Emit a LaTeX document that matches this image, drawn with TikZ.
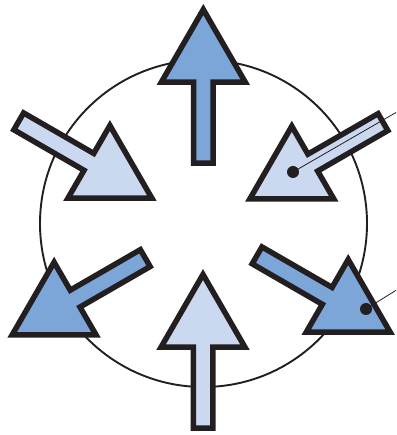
\documentclass[tikz,border=0pt]{standalone}

\definecolor{arrdark}{HTML}{7CA5D8}
\definecolor{arrlight}{HTML}{CAD8F0}
\definecolor{ink}{HTML}{231F20}

\begin{document}
\begin{tikzpicture}[
  x=1pt, y=1pt,
  ring/.style={draw=ink, line width=1.9pt},
  arrline/.style={draw=ink, line width=5.5pt, line join=miter},
  darkarr/.style={fill=arrdark},
  lightarr/.style={fill=arrlight},
  dot/.style={circle, fill=ink, inner sep=0pt, minimum size=12pt},
  leader/.style={draw=ink, line width=0.8pt},
  fatarrow/.pic={
    \path[arrline, pic actions] (0,0) -- (-72.75,42) -- (-72.75,9.75) -- (-153.75,9.75)
      -- (-153.75,-9.75) -- (-72.75,-9.75) -- (-72.75,-42) -- cycle;
  }
]
\path[use as bounding box, clip] (0,0) rectangle (396,435);

\draw[ring] (203.5,211.5) circle[radius=163.5];

% outward (dark) and inward (light) arrows
\pic[darkarr, rotate=90]   at (203.3,425.5)  {fatarrow};
\pic[lightarr, rotate=90]  at (203,160.5)    {fatarrow};
\pic[lightarr, rotate=-30] at (151.9,236.75) {fatarrow};
\pic[lightarr, rotate=210] at (249.8,236)    {fatarrow};
\pic[darkarr, rotate=210]  at (12.1,100)     {fatarrow};
\pic[darkarr, rotate=-30]  at (390.2,102.75) {fatarrow};

\node[dot] (dotin)  at (293,263) {};
\node[dot] (dotout) at (366,126) {};
\coordinate (endin)  at (400,324.8);
\coordinate (endout) at (400,147.2);

\draw[leader] (dotin.center) -- (endin);
\draw[leader] (dotout.center) -- (endout);
\end{tikzpicture}
\end{document}
